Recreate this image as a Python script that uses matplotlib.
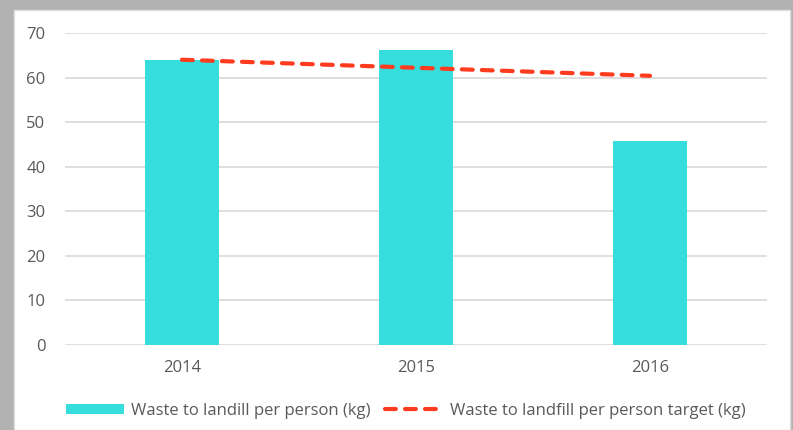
import matplotlib.pyplot as plt
from matplotlib.patches import Rectangle

years = ['2014', '2015', '2016']
waste = [64.0, 66.1, 45.7]
target = [64.0, 62.2, 60.4]

bar_label = 'Waste to landill per person (kg)'
line_label = 'Waste to landfill per person target (kg)'

plt.rcParams['font.family'] = ['Open Sans', 'DejaVu Sans']

W, H = 793, 430
fig = plt.figure(figsize=(W / 100, H / 100), dpi=100, facecolor='#b2b2b2')

# white chart panel on grey background
fig.patches.append(Rectangle((14 / W, 0), (790 - 14) / W, (430 - 10) / H,
                             transform=fig.transFigure, facecolor='white',
                             edgecolor='#e0e0e0', linewidth=1, zorder=-10))

ax = fig.add_axes([65 / W, (H - 345) / H, (767 - 65) / W, (345 - 33) / H])
ax.set_facecolor('none')

x = range(len(years))
bars = ax.bar(x, waste, width=0.316, color='#35dddd', zorder=2, label=bar_label)
line, = ax.plot(x, target, color='#ff3b1f', linewidth=3.0, linestyle=(0, (2.6, 2.2)),
                dash_capstyle='round', zorder=3, label=line_label)

ax.set_xlim(-0.5, 2.5)
ax.set_ylim(0, 70)
ax.set_yticks(range(0, 71, 10))
ax.set_xticks(list(x))
ax.set_xticklabels(years)
ax.grid(axis='y', color='#d9d9d9', linewidth=1.2, zorder=0)
ax.set_axisbelow(True)
for s in ax.spines.values():
    s.set_visible(False)
ax.tick_params(axis='both', length=0, labelsize=12, labelcolor='#595959')
ax.tick_params(axis='y', pad=14)
ax.tick_params(axis='x', pad=11)

fig.legend(handles=[bars, line], labels=[bar_label, line_label],
           loc='center', bbox_to_anchor=(406 / W, (H - 411) / H), ncol=2,
           frameon=False, fontsize=12, labelcolor='#595959',
           handlelength=3.5, handleheight=0.6, handletextpad=0.4, columnspacing=0.9)

fig.savefig('out.png', dpi=100, facecolor=fig.get_facecolor())
